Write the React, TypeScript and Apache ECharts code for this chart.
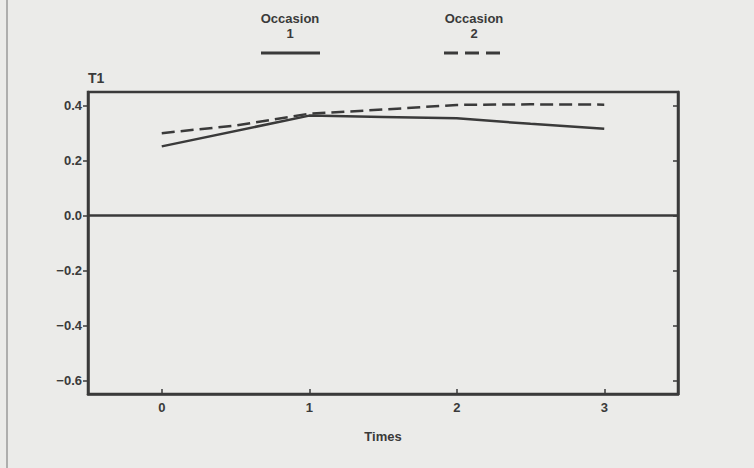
import React, { useEffect, useRef } from "react";
import * as echarts from "echarts";

const yAxisTitle = "T1";
const xAxisTitle = "Times";
const xTicks = [0, 1, 2, 3];
const yTicks = [-0.6, -0.4, -0.2, 0.0, 0.2, 0.4];
const legendTitles = ["Occasion\n1", "Occasion\n2"];
const times1 = [0, 1, 1.5, 2, 2.5, 3];
const occasion1 = [0.252, 0.364, 0.359, 0.354, 0.334, 0.316];
const times2 = [0, 0.5, 1, 1.5, 2, 2.5, 3];
const occasion2 = [0.3, 0.328, 0.371, 0.386, 0.403, 0.405, 0.404];

const INK = "#3a3a3a";
const FONT = "Liberation Sans";

export default function App() {
  const ref = useRef<HTMLDivElement>(null);
  useEffect(() => {
    if (!ref.current) return;
    const chart = echarts.init(ref.current, null, { renderer: "svg" });
    const fmtY = (v: number) => {
      const s = v.toFixed(1);
      return s.startsWith("-") ? "\u2212" + s.slice(1) : s;
    };
    chart.setOption({
      animation: false,
      backgroundColor: "#ebebe9",
      grid: {
        left: 88,
        right: 76,
        top: 92,
        bottom: 74,
        show: true,
        borderColor: INK,
        borderWidth: 2.5,
      },
      xAxis: {
        type: "value",
        min: -0.5,
        max: 3.5,
        name: xAxisTitle,
        nameLocation: "middle",
        nameGap: 36,
        nameTextStyle: { fontFamily: FONT, fontWeight: "bold", fontSize: 13, color: INK },
        splitLine: { show: false },
        axisLine: { show: true, onZero: false, lineStyle: { color: INK, width: 2.5 } },
        axisTick: { show: true, inside: true, length: 5, customValues: xTicks, lineStyle: { color: INK, width: 1.5 } },
        axisLabel: {
          customValues: xTicks,
          margin: 7,
          fontFamily: FONT,
          fontWeight: "bold",
          fontSize: 13,
          color: INK,
        },
      },
      yAxis: [
        {
          type: "value",
          min: -0.65,
          max: 0.45,
          splitLine: { show: false },
          axisLine: { show: true, onZero: false, lineStyle: { color: INK, width: 2.5 } },
          axisTick: { show: true, inside: false, length: 5, customValues: yTicks, lineStyle: { color: INK, width: 1.5 } },
          axisLabel: {
            customValues: yTicks,
            formatter: fmtY,
            margin: 6,
            fontFamily: FONT,
            fontWeight: "bold",
            fontSize: 13,
            color: INK,
          },
        },
        {
          type: "value",
          position: "right",
          min: -0.65,
          max: 0.45,
          splitLine: { show: false },
          axisLine: { show: true, onZero: false, lineStyle: { color: INK, width: 2.5 } },
          axisTick: { show: true, inside: true, length: 5, customValues: yTicks, lineStyle: { color: INK, width: 1.5 } },
          axisLabel: { show: false },
        },
      ],
      series: [
        {
          name: "Occasion 1",
          type: "line",
          data: times1.map((t, i) => [t, occasion1[i]]),
          showSymbol: false,
          symbol: "none",
          lineStyle: { color: INK, width: 2.5, type: "solid" },
          markLine: {
            silent: true,
            symbol: "none",
            label: { show: false },
            lineStyle: { color: INK, width: 2.5, type: "solid" },
            data: [{ yAxis: 0 }],
          },
        },
        {
          name: "Occasion 2",
          type: "line",
          data: times2.map((t, i) => [t, occasion2[i]]),
          showSymbol: false,
          symbol: "none",
          lineStyle: { color: INK, width: 2.5, type: [13, 6] },
        },
      ],
      graphic: [
        {
          type: "line",
          shape: { x1: 7, y1: 0, x2: 7, y2: 468 },
          style: { stroke: "#9a9a98", lineWidth: 1.5 },
        },
        {
          type: "text",
          x: 88,
          y: 71,
          style: { text: yAxisTitle, fontFamily: FONT, fontWeight: "bold", fontSize: 14, fill: INK },
        },
        {
          type: "text",
          x: 290,
          y: 11,
          style: {
            text: legendTitles[0],
            align: "center",
            fontFamily: FONT,
            fontWeight: "bold",
            fontSize: 13,
            lineHeight: 15,
            fill: INK,
          },
        },
        {
          type: "line",
          shape: { x1: 261, y1: 53, x2: 320, y2: 53 },
          style: { stroke: INK, lineWidth: 3 },
        },
        {
          type: "text",
          x: 474,
          y: 11,
          style: {
            text: legendTitles[1],
            align: "center",
            fontFamily: FONT,
            fontWeight: "bold",
            fontSize: 13,
            lineHeight: 15,
            fill: INK,
          },
        },
        {
          type: "line",
          shape: { x1: 444, y1: 53, x2: 502, y2: 53 },
          style: { stroke: INK, lineWidth: 3, lineDash: [14, 7] },
        },
      ],
    });
    return () => chart.dispose();
  }, []);
  return <div ref={ref} style={{ width: 754, height: 468, position: "absolute", left: 0, top: 0 }} />;
}
